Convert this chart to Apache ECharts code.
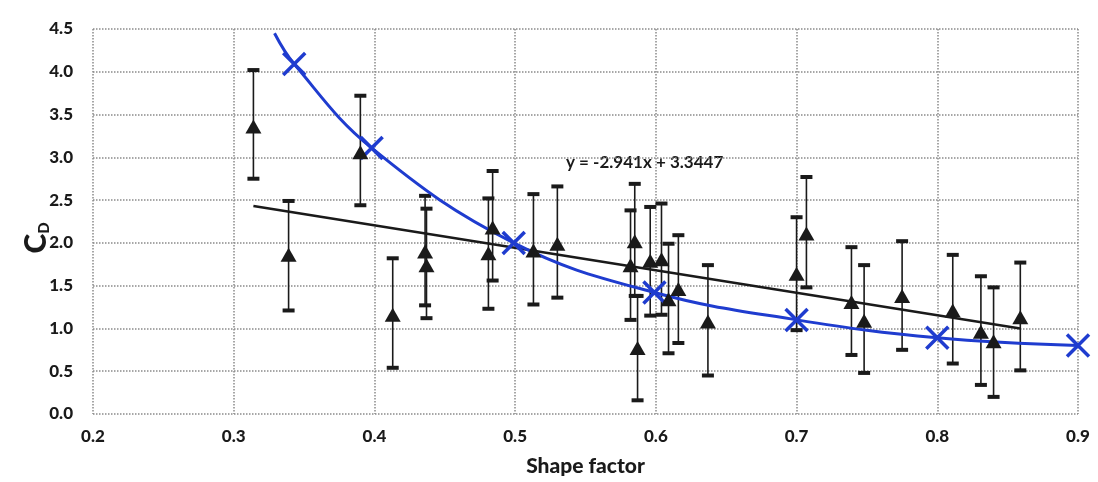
<!DOCTYPE html>
<html>
<head>
<meta charset="utf-8">
<script src="https://cdn.jsdelivr.net/npm/echarts@6/dist/echarts.min.js"></script>
<style>
    html, body { margin: 0; padding: 0; background: #fff; }
    #chart { width: 1098px; height: 482px; }
</style>
</head>
<body>
<div id="chart"></div>
<script>
// measured points (triangles) with error bars
var shapeX = [0.314, 0.339, 0.390, 0.413, 0.436, 0.437, 0.481, 0.484, 0.513, 0.530, 0.582, 0.585, 0.587, 0.596,
    0.604, 0.609, 0.616, 0.637, 0.700, 0.707, 0.739, 0.748, 0.775, 0.811, 0.831, 0.840, 0.859];
var cdMean = [3.36, 1.86, 3.06, 1.16, 1.90, 1.74, 1.88, 2.18, 1.91, 1.99, 1.74, 2.02, 0.77, 1.79,
    1.81, 1.34, 1.46, 1.08, 1.64, 2.11, 1.31, 1.09, 1.38, 1.21, 0.96, 0.85, 1.13];
var cdLow = [2.75, 1.21, 2.44, 0.54, 1.27, 1.12, 1.23, 1.56, 1.28, 1.36, 1.10, 1.38, 0.16, 1.15,
    1.16, 0.71, 0.83, 0.45, 0.98, 1.48, 0.69, 0.48, 0.75, 0.59, 0.34, 0.20, 0.51];
var cdHigh = [4.02, 2.49, 3.72, 1.82, 2.55, 2.40, 2.52, 2.84, 2.57, 2.66, 2.38, 2.69, 1.38, 2.42,
    2.46, 1.99, 2.09, 1.74, 2.30, 2.77, 1.95, 1.74, 2.02, 1.86, 1.61, 1.48, 1.77];

// blue curve (X markers), first point is only the curve start
var curveX = [0.329, 0.343, 0.398, 0.499, 0.599, 0.700, 0.800, 0.900];
var curveY = [4.45, 4.09, 3.11, 2.00, 1.42, 1.10, 0.89, 0.80];

// linear trend line as drawn
var trendX = [0.314, 0.859];
var trendY = [2.43, 1.00];
var trendText = 'y = -2.941x + 3.3447';

var xTicks = [0.2, 0.3, 0.4, 0.5, 0.6, 0.7, 0.8, 0.9];
var yTicks = [0.0, 0.5, 1.0, 1.5, 2.0, 2.5, 3.0, 3.5, 4.0, 4.5];

var chart = echarts.init(document.getElementById('chart'));

var font = 'Lato, "Open Sans", sans-serif';
var pts = [], bars = [], curve = [], trend = [];
for (var i = 0; i < shapeX.length; i++) {
    pts.push([shapeX[i], cdMean[i]]);
    bars.push([shapeX[i], cdLow[i], cdHigh[i]]);
}
for (var j = 0; j < curveX.length; j++) {
    curve.push({ value: [curveX[j], curveY[j]], symbolSize: j === 0 ? 0 : 22 });
}
for (var k = 0; k < trendX.length; k++) {
    trend.push([trendX[k], trendY[k]]);
}

// X shaped marker
var crossPath = 'path://M0,0 L10,10 M10,0 L0,10';

var option = {
    animation: false,
    backgroundColor: '#fff',
    grid: { left: 93, right: 20, top: 29, bottom: 68 },
    xAxis: {
        type: 'value',
        min: xTicks[0],
        max: xTicks[xTicks.length - 1],
        interval: 0.1,
        name: 'Shape factor',
        nameLocation: 'middle',
        nameGap: 42,
        nameTextStyle: { fontFamily: font, fontWeight: 900, fontSize: 21, color: '#1a1a1a' },
        axisLine: { show: false },
        axisTick: { show: false },
        axisLabel: {
            fontFamily: font, fontWeight: 900, fontSize: 17, color: '#1a1a1a', margin: 14,
            formatter: function (v) { return v.toFixed(1); }
        },
        splitLine: { lineStyle: { color: '#8a8a8a', type: 'dotted', width: 1.5 } }
    },
    yAxis: {
        type: 'value',
        min: yTicks[0],
        max: yTicks[yTicks.length - 1],
        interval: 0.5,
        axisLine: { show: false },
        axisTick: { show: false },
        axisLabel: {
            fontFamily: font, fontWeight: 900, fontSize: 17, color: '#1a1a1a', margin: 20,
            formatter: function (v) { return v.toFixed(1); }
        },
        splitLine: { lineStyle: { color: '#8a8a8a', type: 'dotted', width: 1.5 } }
    },
    graphic: [
        {
            type: 'text',
            left: 566,
            top: 154,
            style: { text: trendText, fontFamily: font, fontWeight: 'bold', fontSize: 17, fill: '#1a1a1a' }
        },
        {
            // y axis title C_D, rotated
            type: 'text',
            x: 36,
            y: 238,
            rotation: Math.PI / 2,
            style: {
                text: '{c|C}{d|D}',
                align: 'center',
                verticalAlign: 'middle',
                rich: {
                    c: { fontFamily: font, fontWeight: 900, fontSize: 30, fill: '#1a1a1a' },
                    d: { fontFamily: font, fontWeight: 900, fontSize: 15, fill: '#1a1a1a', padding: [16, 0, 0, 0] }
                }
            }
        }
    ],
    series: [
        {
            name: 'error',
            type: 'custom',
            data: bars,
            z: 2,
            renderItem: function (params, api) {
                var x = api.value(0);
                var lo = api.coord([x, api.value(1)]);
                var hi = api.coord([x, api.value(2)]);
                var w = 6;
                var st = { stroke: '#1a1a1a', lineWidth: 1.6 };
                var cap = { stroke: '#1a1a1a', lineWidth: 4 };
                return {
                    type: 'group',
                    children: [
                        { type: 'line', shape: { x1: lo[0], y1: lo[1], x2: hi[0], y2: hi[1] }, style: st },
                        { type: 'line', shape: { x1: lo[0] - w, y1: lo[1], x2: lo[0] + w, y2: lo[1] }, style: cap },
                        { type: 'line', shape: { x1: hi[0] - w, y1: hi[1], x2: hi[0] + w, y2: hi[1] }, style: cap }
                    ]
                };
            }
        },
        {
            name: 'trend',
            type: 'line',
            data: trend,
            symbol: 'none',
            z: 3,
            lineStyle: { color: '#1a1a1a', width: 2.5 }
        },
        {
            name: 'curve',
            type: 'line',
            data: curve,
            smooth: 0.4,
            symbol: crossPath,
            z: 4,
            itemStyle: { color: 'none', borderColor: '#1f3ccf', borderWidth: 3.5 },
            lineStyle: { color: '#1f3ccf', width: 3 }
        },
        {
            name: 'measured',
            type: 'scatter',
            data: pts,
            symbol: 'triangle',
            symbolSize: [16, 14],
            z: 5,
            itemStyle: { color: '#1a1a1a', opacity: 1 }
        }
    ]
};

chart.setOption(option);
</script>
</body>
</html>
